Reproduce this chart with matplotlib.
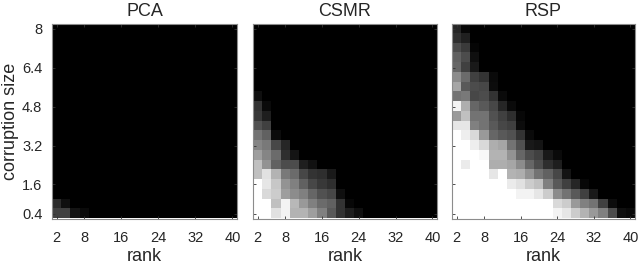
import numpy as np
import matplotlib
matplotlib.use("Agg")
import matplotlib.pyplot as plt

plt.rcParams['font.family'] = ['Liberation Sans', 'DejaVu Sans']

# rank values (columns) and corruption sizes (rows, bottom to top)
ranks = list(range(2, 41, 2))
corruption = [round(0.4 * k, 1) for k in range(1, 21)]
xtick_vals = [2, 8, 16, 24, 32, 40]
ytick_vals = [0.4, 1.6, 3.2, 4.8, 6.4, 8]
ytick_labels = ['0.4', '1.6', '3.2', '4.8', '6.4', '8']
titles = ["PCA", "CSMR", "RSP"]

# success fraction per cell; each row lists leading values, remaining cells are 0 (black)
pca_rows = [
    [0.25, 0.25, 0.08, 0.04],
    [0.17, 0.06],
]

csmr_rows = [
    [1, 1, 0.88, 0.95, 0.7, 0.7, 0.62, 0.5, 0.35, 0.2, 0.12, 0.06],
    [1, 1, 0.75, 0.95, 0.72, 0.6, 0.5, 0.42, 0.38, 0.2, 0.03],
    [1, 0.85, 0.8, 0.62, 0.55, 0.5, 0.4, 0.32, 0.28, 0.06],
    [1, 0.9, 0.78, 0.58, 0.5, 0.38, 0.28, 0.22, 0.18],
    [0.75, 0.88, 0.7, 0.48, 0.42, 0.28, 0.2, 0.18, 0.1],
    [0.75, 0.58, 0.38, 0.3, 0.3, 0.12, 0.07],
    [0.62, 0.52, 0.42, 0.18, 0.08],
    [0.52, 0.48, 0.28, 0.15],
    [0.45, 0.38, 0.05],
    [0.32, 0.25],
    [0.22, 0.12],
    [0.2, 0.04],
    [0.06],
]

rsp_rows = [
    [1, 1, 1, 1, 1, 1, 1, 1, 1, 1, 1, 0.95, 0.9, 0.8, 0.7, 0.6, 0.5, 0.3, 0.06, 0.04],
    [1, 1, 1, 1, 1, 1, 1, 1, 1, 1, 1, 0.85, 0.8, 0.6, 0.5, 0.45, 0.25, 0.05],
    [1, 1, 1, 1, 1, 1, 1, 0.95, 0.95, 0.9, 0.8, 0.55, 0.45, 0.35, 0.25, 0.1],
    [1, 1, 1, 1, 1, 1, 0.92, 0.88, 0.8, 0.75, 0.5, 0.35, 0.25, 0.15, 0.03],
    [1, 1, 1, 1, 0.9, 1, 0.7, 0.68, 0.58, 0.45, 0.38, 0.28, 0.08],
    [1, 0.92, 1, 1, 0.68, 0.68, 0.65, 0.55, 0.4, 0.3, 0.18, 0.12],
    [1, 1, 1, 0.97, 0.7, 0.7, 0.58, 0.4, 0.3, 0.25, 0.1, 0.04],
    [1, 1, 0.93, 0.85, 0.68, 0.65, 0.45, 0.32, 0.1, 0.08],
    [1, 0.93, 0.85, 0.6, 0.4, 0.35, 0.32, 0.2, 0.04],
    [0.9, 0.9, 0.5, 0.45, 0.35, 0.28, 0.25, 0.05],
    [0.6, 0.75, 0.45, 0.45, 0.32, 0.25, 0.18, 0.03],
    [0.95, 0.68, 0.4, 0.35, 0.28, 0.15, 0.04],
    [0.45, 0.48, 0.28, 0.3, 0.2, 0.04],
    [0.65, 0.35, 0.3, 0.28, 0.05],
    [0.55, 0.42, 0.25, 0.2, 0.04],
    [0.4, 0.25, 0.1],
    [0.38, 0.3, 0.06],
    [0.3, 0.23, 0.02],
    [0.19, 0.13],
    [0.15, 0.03],
]


def to_grid(rows):
    grid = np.zeros((len(corruption), len(ranks)))
    for i, r in enumerate(rows):
        grid[i, :len(r)] = r
    return grid


grids = [to_grid(pca_rows), to_grid(csmr_rows), to_grid(rsp_rows)]

W, H = 640, 269
fig = plt.figure(figsize=(W / 100, H / 100), dpi=100)
boxes = [(52, 237), (253, 437), (452, 635)]
top, bottom = 24, 218.5
edge = '#8c8c8c'
txt = '#262626'

dx = ranks[1] - ranks[0]
dy = corruption[1] - corruption[0]
extent = [ranks[0] - dx / 2, ranks[-1] + dx / 2,
          corruption[0] - dy / 2, corruption[-1] + dy / 2]

for i, (g, t, (l, r)) in enumerate(zip(grids, titles, boxes)):
    ax = fig.add_axes([l / W, (H - bottom) / H, (r - l) / W, (bottom - top) / H])
    ax.imshow(g, cmap='gray', vmin=0, vmax=1, origin='lower', extent=extent,
              aspect='auto', interpolation='nearest')
    ax.set_xticks(xtick_vals)
    ax.set_yticks(ytick_vals)
    ax.set_xticklabels([str(v) for v in xtick_vals], fontsize=10.5)
    ax.tick_params(direction='in', length=2.5, width=0.6, color='#333333',
                   top=True, right=True, labelcolor=txt)
    ax.tick_params(axis='x', pad=9)
    ax.tick_params(axis='y', pad=7)
    if i == 0:
        ax.set_yticklabels(ytick_labels, fontsize=10.5)
        ax.set_ylabel('corruption size', fontsize=13, color=txt, labelpad=2)
    else:
        ax.set_yticklabels([])
    ax.set_xlabel('rank', fontsize=13, color=txt, labelpad=2)
    ax.set_title(t, fontsize=13, color=txt, pad=6)
    for s in ax.spines.values():
        s.set_color(edge)
        s.set_linewidth(0.8)

fig.savefig('out.png', dpi=100, facecolor='white')
